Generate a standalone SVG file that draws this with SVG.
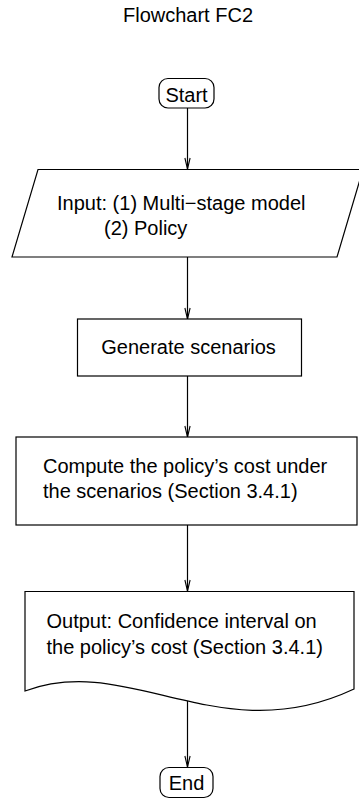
<svg xmlns="http://www.w3.org/2000/svg" width="359" height="803" viewBox="0 0 359 803">
  <style>
    text { font-family: "Liberation Sans", Arial, sans-serif; font-size: 20px; fill: #000; }
    .shape { fill: #fff; stroke: #000; stroke-width: 1.2; }
    .edge { fill: none; stroke: #000; stroke-width: 1.2; }
    .c { text-anchor: middle; }
  </style>
  <defs>
    <marker id="arr" markerUnits="userSpaceOnUse" markerWidth="14" markerHeight="10" viewBox="-12 -5 14 10" refX="0" refY="0" orient="auto" overflow="visible">
      <path d="M -11 -2.6 L 0 0 L -11 2.6" fill="none" stroke="#000" stroke-width="1.1"/>
    </marker>
  </defs>
  <rect width="359" height="803" fill="#fff"/>
  <text class="c" x="188" y="21.5">Flowchart FC2</text>

  <g id="edges">
    <line class="edge" x1="187.5" y1="108" x2="187.5" y2="169" marker-end="url(#arr)"/>
    <line class="edge" x1="187.5" y1="257" x2="187.5" y2="319" marker-end="url(#arr)"/>
    <line class="edge" x1="187.5" y1="376" x2="187.5" y2="437" marker-end="url(#arr)"/>
    <line class="edge" x1="187.5" y1="525" x2="187.5" y2="591" marker-end="url(#arr)"/>
    <line class="edge" x1="187.5" y1="700" x2="187.5" y2="767" marker-end="url(#arr)"/>
  </g>

  <g id="start">
    <rect class="shape" x="159" y="78.5" width="55" height="29.5" rx="9"/>
    <text class="c" x="186.5" y="101.5">Start</text>
  </g>

  <g id="input">
    <polygon class="shape" points="38,169.5 363,169.5 337,257 12,257"/>
    <text x="57" y="210">Input: (1) Multi−stage model</text>
    <text x="104" y="234.5">(2) Policy</text>
  </g>

  <g id="generate">
    <rect class="shape" x="77.5" y="319" width="224" height="57"/>
    <text class="c" x="188.5" y="354">Generate scenarios</text>
  </g>

  <g id="compute">
    <rect class="shape" x="16" y="437" width="341" height="88"/>
    <text x="43" y="473">Compute the policy’s cost under</text>
    <text x="43" y="498">the scenarios (Section 3.4.1)</text>
  </g>

  <g id="output">
    <path class="shape" d="M 25 591.5 L 354 591.5 L 354 689 C 220 752 130 652 25 691 Z"/>
    <text x="46.5" y="628">Output: Confidence interval on</text>
    <text x="46.5" y="653.5">the policy’s cost (Section 3.4.1)</text>
  </g>

  <g id="end">
    <rect class="shape" x="160" y="767.5" width="53" height="30" rx="9"/>
    <text class="c" x="186.5" y="789.5">End</text>
  </g>
</svg>
